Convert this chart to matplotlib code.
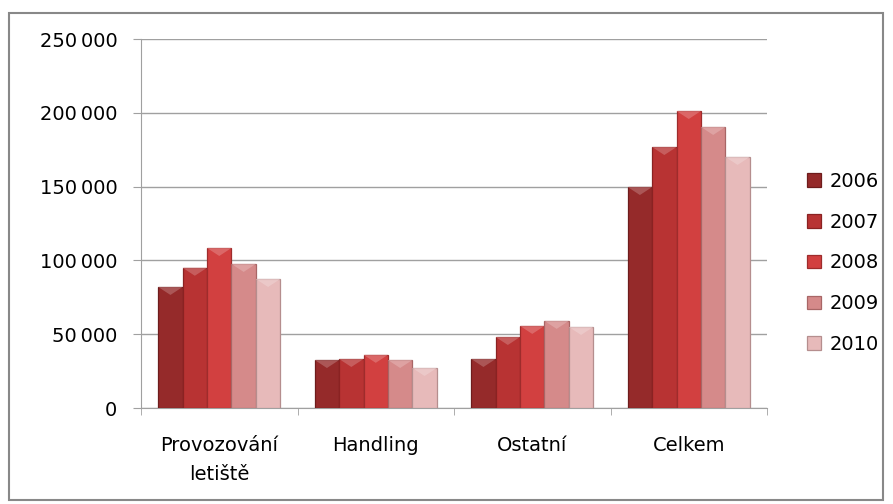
import matplotlib
matplotlib.use("Agg")
import matplotlib.pyplot as plt
import numpy as np
from matplotlib.patches import Rectangle, Polygon
from matplotlib.ticker import FuncFormatter, FixedLocator
import matplotlib.colors as mcolors

categories = ["Provozování\nletiště", "Handling", "Ostatní", "Celkem"]
years = ["2006", "2007", "2008", "2009", "2010"]
v2006 = [82000, 32500, 33200, 149700]
v2007 = [95000, 33200, 48100, 176800]
v2008 = [108400, 36000, 55600, 201200]
v2009 = [97600, 32500, 59000, 190400]
v2010 = [87400, 27100, 54900, 170100]
series = [v2006, v2007, v2008, v2009, v2010]
colors = ["#952a2a", "#b83333", "#d24040", "#d58a8a", "#e7baba"]
edges = ["#6e1c1c", "#8a2222", "#9e2c2c", "#a86666", "#b58e8e"]

plt.rcParams['font.family'] = ['DejaVu Sans']
FS = 14

fig = plt.figure(figsize=(8.93, 5.04), dpi=100)
fig.patches.append(Rectangle((9/893, 1-500/504), 874/893, 487/504, transform=fig.transFigure,
                             fill=False, edgecolor="#888888", linewidth=1.5))
ax = fig.add_axes([141/893, 1-408/504, 626/893, 369/504])

x = np.arange(len(categories))
w = 0.156
bevel = 5400
for i, (s, c, e) in enumerate(zip(series, colors, edges)):
    bars = ax.bar(x + (i - 2) * w, s, width=w, color=c, edgecolor=e, linewidth=0.9,
                  label=years[i], zorder=3)
    light = mcolors.to_rgb(c)
    light = tuple(min(1, v + (1 - v) * 0.3) for v in light)
    for b in bars:
        x0 = b.get_x(); x1 = x0 + b.get_width(); h = b.get_height()
        ax.add_patch(Polygon([(x0, h), (x1, h), (x0 + b.get_width() / 2, h - bevel)],
                             closed=True, facecolor=light, edgecolor='none', zorder=4, alpha=0.7))

ax.set_xlim(-0.5, len(categories) - 0.5)
ax.set_ylim(0, 250000)
ax.yaxis.set_major_locator(FixedLocator(np.arange(0, 250001, 50000)))
ax.yaxis.set_major_formatter(FuncFormatter(lambda v, p: f"{int(v):,}".replace(",", "\u2009")))
ax.grid(axis='y', color="#a0a0a0", linewidth=1, zorder=0)
ax.set_xticks(x)
ax.set_xticklabels(categories, fontsize=FS, linespacing=1.7)
ax.xaxis.set_minor_locator(FixedLocator(np.arange(-0.5, len(categories), 1)))
ax.tick_params(axis='x', which='major', length=0, pad=20)
ax.tick_params(axis='x', which='minor', length=5, color="#a0a0a0")
ax.tick_params(axis='y', length=6, color="#a0a0a0", labelsize=FS, pad=11)
for side in ["top", "right"]:
    ax.spines[side].set_visible(False)
for side in ["left", "bottom"]:
    ax.spines[side].set_color("#a0a0a0")

leg = ax.legend(loc="center left", bbox_to_anchor=(1.064, 0.393), frameon=False, fontsize=FS,
                borderpad=0, borderaxespad=0,
                handlelength=0.7, handleheight=0.7, handletextpad=0.45, labelspacing=1.12)

fig.savefig("out.png", dpi=100)
